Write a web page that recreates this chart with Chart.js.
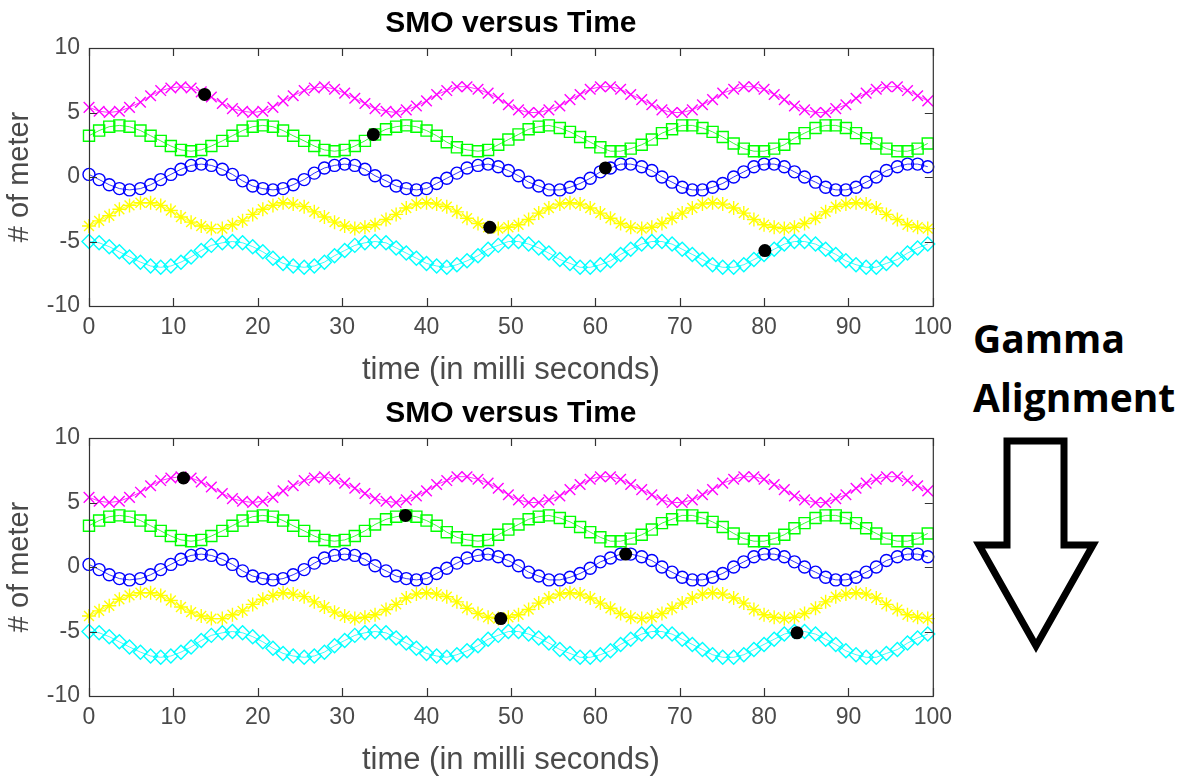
<!DOCTYPE html>
<html>
<head>
<meta charset="utf-8">
<title>SMO versus Time</title>
<script src="https://cdn.jsdelivr.net/npm/chart.js@4.4.1/dist/chart.umd.min.js"></script>
<style>
  body { margin: 0; background: #fff; width: 1186px; height: 777px; overflow: hidden; position: relative; }
  .plot { position: absolute; left: 0; }
  #topPlot { top: 0; }
  #bottomPlot { top: 390px; }
  .note { position: absolute; left: 973px; top: 308px; font: 700 39px "Open Sans", sans-serif; line-height: 59px; color: #000; }
  svg { position: absolute; left: 0; top: 0; }
</style>
</head>
<body>
<canvas id="topPlot" class="plot" width="960" height="390"></canvas>
<canvas id="bottomPlot" class="plot" width="960" height="390"></canvas>
<div class="note">Gamma<br>Alignment</div>
<svg width="1186" height="777">
  <polygon points="1007,441 1064,441 1064,545 1093,545 1036,646 979,545 1007,545"
           fill="none" stroke="#000" stroke-width="7" stroke-linejoin="miter"/>
</svg>

<script>
// time samples (ms)
const times = [0, 1.2, 2.4, 3.6, 4.8, 6.1, 7.3, 8.5, 9.7, 10.9, 12.1, 13.3, 14.5, 15.8, 17.0, 18.2, 19.4, 20.6, 21.8, 23.0,
  24.2, 25.5, 26.7, 27.9, 29.1, 30.3, 31.5, 32.7, 33.9, 35.2, 36.4, 37.6, 38.8, 40.0, 41.2, 42.4, 43.6, 44.8, 46.1, 47.3,
  48.5, 49.7, 50.9, 52.1, 53.3, 54.5, 55.8, 57.0, 58.2, 59.4, 60.6, 61.8, 63.0, 64.2, 65.5, 66.7, 67.9, 69.1, 70.3, 71.5,
  72.7, 73.9, 75.1, 76.4, 77.6, 78.8, 80.0, 81.2, 82.4, 83.6, 84.8, 86.1, 87.3, 88.5, 89.7, 90.9, 92.1, 93.3, 94.5, 95.8,
  97.0, 98.2, 99.4];

const magentaVals = [5.4, 5.1, 5.0, 5.1, 5.4, 5.8, 6.3, 6.7, 6.9, 7.0, 6.9, 6.6, 6.2, 5.7, 5.3, 5.1, 5.0, 5.1, 5.4, 5.9,
  6.3, 6.7, 6.9, 7.0, 6.8, 6.5, 6.1, 5.7, 5.3, 5.1, 5.0, 5.2, 5.5, 5.9, 6.4, 6.7, 7.0, 7.0, 6.8, 6.5,
  6.1, 5.6, 5.2, 5.0, 5.0, 5.2, 5.5, 6.0, 6.4, 6.8, 7.0, 7.0, 6.8, 6.4, 6.0, 5.6, 5.2, 5.0, 5.0, 5.2,
  5.6, 6.0, 6.5, 6.8, 7.0, 7.0, 6.8, 6.4, 6.0, 5.5, 5.2, 5.0, 5.0, 5.3, 5.6, 6.1, 6.5, 6.8, 7.0, 7.0,
  6.7, 6.3, 5.9];

const greenVals = [3.2, 3.6, 3.9, 4.0, 3.9, 3.6, 3.2, 2.8, 2.4, 2.1, 2.0, 2.1, 2.4, 2.8, 3.2, 3.6, 3.9, 4.0, 3.9, 3.6,
  3.2, 2.8, 2.4, 2.1, 2.0, 2.1, 2.4, 2.8, 3.3, 3.7, 3.9, 4.0, 3.9, 3.6, 3.2, 2.7, 2.3, 2.1, 2.0, 2.1,
  2.5, 2.9, 3.3, 3.7, 3.9, 4.0, 3.8, 3.5, 3.1, 2.7, 2.3, 2.0, 2.0, 2.2, 2.5, 2.9, 3.4, 3.7, 4.0, 4.0,
  3.8, 3.5, 3.1, 2.6, 2.2, 2.0, 2.0, 2.2, 2.5, 3.0, 3.4, 3.8, 4.0, 4.0, 3.8, 3.4, 3.0, 2.6, 2.2, 2.0,
  2.0, 2.2, 2.6];

const blueVals = [0.2, -0.2, -0.6, -0.9, -1.0, -0.9, -0.6, -0.2, 0.2, 0.6, 0.9, 1.0, 0.9, 0.6, 0.2, -0.3, -0.7, -0.9, -1.0, -0.9,
  -0.6, -0.2, 0.3, 0.7, 0.9, 1.0, 0.9, 0.6, 0.1, -0.3, -0.7, -0.9, -1.0, -0.9, -0.5, -0.1, 0.3, 0.7, 0.9, 1.0,
  0.8, 0.5, 0.1, -0.4, -0.7, -1.0, -1.0, -0.8, -0.5, -0.1, 0.4, 0.7, 1.0, 1.0, 0.8, 0.5, 0.0, -0.4, -0.8, -1.0,
  -1.0, -0.8, -0.5, 0.0, 0.4, 0.8, 1.0, 1.0, 0.8, 0.4, 0.0, -0.4, -0.8, -1.0, -1.0, -0.8, -0.4, 0.0, 0.5, 0.8,
  1.0, 1.0, 0.8];

const yellowVals = [-3.8, -3.4, -3.0, -2.5, -2.2, -2.0, -2.0, -2.2, -2.6, -3.1, -3.5, -3.8, -4.0, -4.0, -3.7, -3.4, -2.9, -2.5, -2.2, -2.0,
  -2.1, -2.3, -2.7, -3.1, -3.5, -3.8, -4.0, -3.9, -3.7, -3.3, -2.9, -2.4, -2.1, -2.0, -2.1, -2.3, -2.7, -3.2, -3.6, -3.9,
  -4.0, -3.9, -3.7, -3.3, -2.8, -2.4, -2.1, -2.0, -2.1, -2.4, -2.8, -3.2, -3.6, -3.9, -4.0, -3.9, -3.6, -3.2, -2.8, -2.4,
  -2.1, -2.0, -2.1, -2.4, -2.8, -3.3, -3.7, -3.9, -4.0, -3.9, -3.6, -3.2, -2.7, -2.3, -2.1, -2.0, -2.1, -2.4, -2.9, -3.3,
  -3.7, -3.9, -4.0];

const cyanVals = [-5.0, -5.1, -5.4, -5.8, -6.2, -6.6, -6.9, -7.0, -6.9, -6.6, -6.2, -5.7, -5.3, -5.1, -5.0, -5.1, -5.4, -5.8, -6.3, -6.7,
  -6.9, -7.0, -6.9, -6.6, -6.1, -5.7, -5.3, -5.1, -5.0, -5.1, -5.5, -5.9, -6.3, -6.7, -6.9, -7.0, -6.8, -6.5, -6.1, -5.6,
  -5.3, -5.0, -5.0, -5.2, -5.5, -5.9, -6.4, -6.7, -7.0, -7.0, -6.8, -6.5, -6.0, -5.6, -5.2, -5.0, -5.0, -5.2, -5.6, -6.0,
  -6.4, -6.8, -7.0, -7.0, -6.8, -6.4, -6.0, -5.6, -5.2, -5.0, -5.0, -5.2, -5.6, -6.0, -6.5, -6.8, -7.0, -7.0, -6.7, -6.4,
  -5.9, -5.5, -5.2];

// highlighted samples (black dots)
const topDotX = [13.7, 33.7, 61.2, 47.5, 80.1];
const topDotY = [6.4, 3.3, 0.7, -3.9, -5.7];
const bottomDotX = [11.2, 37.5, 63.6, 48.8, 83.9];
const bottomDotY = [6.9, 4.0, 1.0, -4.0, -5.1];

const xTicks = [0, 10, 20, 30, 40, 50, 60, 70, 80, 90, 100];
const yTicks = [-10, -5, 0, 5, 10];

const axisColor = '#333333';
const textColor = '#4a4a4a';
Chart.defaults.font.family = '"Liberation Sans", Arial, sans-serif';

const toPoints = (xs, ys) => xs.map((x, i) => ({ x: x, y: ys[i] }));

function series(vals, color, style, radius) {
  return {
    data: toPoints(times, vals),
    borderColor: color,
    borderWidth: 0.8,
    pointStyle: style,
    pointRadius: radius,
    pointBorderColor: color,
    pointBackgroundColor: 'rgba(0,0,0,0)',
    pointBorderWidth: 1.4,
    tension: 0,
    clip: false
  };
}

// box with inward ticks, MATLAB style
const boxPlugin = {
  id: 'boxPlugin',
  afterDraw(chart) {
    const { ctx, chartArea: a, scales: { x, y } } = chart;
    ctx.save();
    ctx.strokeStyle = axisColor;
    ctx.lineWidth = 1.2;
    ctx.strokeRect(a.left + 0.5, a.top + 0.5, a.right - a.left, a.bottom - a.top);
    ctx.beginPath();
    x.ticks.forEach(t => {
      const px = Math.round(x.getPixelForValue(t.value)) + 0.5;
      ctx.moveTo(px, a.bottom); ctx.lineTo(px, a.bottom - 8);
      ctx.moveTo(px, a.top); ctx.lineTo(px, a.top + 8);
    });
    y.ticks.forEach(t => {
      const py = Math.round(y.getPixelForValue(t.value)) + 0.5;
      ctx.moveTo(a.left, py); ctx.lineTo(a.left + 8, py);
      ctx.moveTo(a.right, py); ctx.lineTo(a.right - 8, py);
    });
    ctx.stroke();
    ctx.restore();
  }
};

function makeChart(id, dotX, dotY) {
  const ctx = document.getElementById(id).getContext('2d');
  return new Chart(ctx, {
    type: 'line',
    data: {
      datasets: [
        {
          data: toPoints(dotX, dotY),
          showLine: false,
          pointStyle: 'circle',
          pointRadius: 6.5,
          pointBackgroundColor: '#000',
          pointBorderColor: '#000',
          pointBorderWidth: 0,
          clip: false
        },
        series(cyanVals, '#00ffff', 'rectRot', 7),
        series(yellowVals, '#ffff00', 'star', 7),
        series(blueVals, '#0000ff', 'circle', 6),
        series(greenVals, '#00ff00', 'rect', 7.8),
        series(magentaVals, '#ff00ff', 'crossRot', 7.5)
      ]
    },
    options: {
      responsive: false,
      animation: false,
      devicePixelRatio: 1,
      layout: { padding: { top: 0, right: 22, left: 0, bottom: 0 } },
      plugins: {
        legend: { display: false },
        tooltip: { enabled: false },
        title: {
          display: true,
          fullSize: false,
          text: 'SMO versus Time',
          color: '#000',
          font: { size: 30, weight: 'bold' },
          padding: { top: 6, bottom: 6 }
        }
      },
      scales: {
        x: {
          type: 'linear',
          min: 0,
          max: 100,
          afterBuildTicks: s => { s.ticks = xTicks.map(v => ({ value: v })); },
          afterFit: s => { s.height = 84; },
          grid: { display: false, drawTicks: false },
          border: { display: false },
          ticks: { color: textColor, font: { size: 23 }, padding: 8, maxRotation: 0 },
          title: { display: true, text: 'time (in milli seconds)', color: textColor, font: { size: 31 }, padding: { top: 0, bottom: 1 } }
        },
        y: {
          type: 'linear',
          min: -10,
          max: 10,
          afterBuildTicks: s => { s.ticks = yTicks.map(v => ({ value: v })); },
          afterFit: s => { s.width = 89; },
          grid: { display: false, drawTicks: false },
          border: { display: false },
          ticks: { color: textColor, font: { size: 23 }, padding: 9 },
          title: { display: true, text: '# of meter', color: textColor, font: { size: 29 }, padding: { top: 3, bottom: 0 } }
        }
      }
    },
    plugins: [boxPlugin]
  });
}

makeChart('topPlot', topDotX, topDotY);
makeChart('bottomPlot', bottomDotX, bottomDotY);
</script>
</body>
</html>
